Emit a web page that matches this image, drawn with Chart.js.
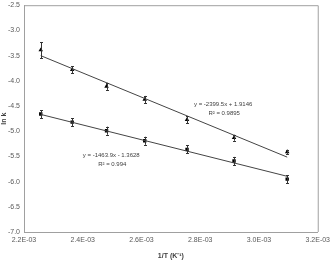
<!DOCTYPE html>
<html>
<head>
<meta charset="utf-8">
<script src="https://cdn.jsdelivr.net/npm/chart.js@4"></script>
<style>
html,body{margin:0;padding:0;background:#fff;}
#wrap{width:331px;height:260px;position:relative;}
</style>
</head>
<body>
<div id="wrap"><canvas id="c" width="331" height="260"></canvas></div>
<script>
// 1/T values (K^-1)
const invT = [0.002257, 0.002364, 0.002481, 0.002611, 0.002755, 0.002915, 0.003096];
// ln k, series A (triangles)
const lnkA = [-3.39, -3.78, -4.11, -4.37, -4.77, -5.13, -5.41];
const errA = [0.16, 0.07, 0.07, 0.07, 0.07, 0.06, 0.04];
// ln k, series B (squares)
const lnkB = [-4.66, -4.82, -4.99, -5.19, -5.36, -5.59, -5.95];
const errB = [0.08, 0.08, 0.08, 0.08, 0.08, 0.08, 0.08];
// trendline equations as shown
const slopes = [-2399.5, -1463.9];
const intercepts = [1.9146, -1.3628];
const eqLabels = ["y = -2399.5x + 1.9146", "y = -1463.9x - 1.3628"];
const r2Labels = ["R\u00b2 = 0.9895", "R\u00b2 = 0.994"];
// axis ticks
const xTicks = [0.0022, 0.0024, 0.0026, 0.0028, 0.0030, 0.0032];
const xTickLabels = ["2.2E-03", "2.4E-03", "2.6E-03", "2.8E-03", "3.0E-03", "3.2E-03"];
const yTicks = [-2.5, -3.0, -3.5, -4.0, -4.5, -5.0, -5.5, -6.0, -6.5, -7.0];
const yTickLabels = ["-2.5", "-3.0", "-3.5", "-4.0", "-4.5", "-5.0", "-5.5", "-6.0", "-6.5", "-7.0"];

const xMin = invT[0], xMax = invT[invT.length - 1];
function trend(i) {
  return [xMin, xMax].map(x => ({x: x, y: slopes[i] * x + intercepts[i]}));
}
const ptsA = invT.map((x, i) => ({x: x, y: lnkA[i]}));
const ptsB = invT.map((x, i) => ({x: x, y: lnkB[i]}));

const errorBars = {
  id: 'errorBars',
  afterDatasetsDraw(chart) {
    const ctx = chart.ctx, xs = chart.scales.x, ys = chart.scales.y;
    ctx.save();
    ctx.strokeStyle = '#333';
    ctx.lineWidth = 1;
    chart.data.datasets.forEach(ds => {
      if (!ds.errors) return;
      ds.data.forEach((p, i) => {
        const px = Math.round(xs.getPixelForValue(p.x)) + 0.5;
        const y1 = ys.getPixelForValue(p.y + ds.errors[i]);
        const y2 = ys.getPixelForValue(p.y - ds.errors[i]);
        ctx.beginPath();
        ctx.moveTo(px, y1); ctx.lineTo(px, y2);
        ctx.moveTo(px - 1.5, Math.round(y1) + 0.5); ctx.lineTo(px + 1.5, Math.round(y1) + 0.5);
        ctx.moveTo(px - 1.5, Math.round(y2) + 0.5); ctx.lineTo(px + 1.5, Math.round(y2) + 0.5);
        ctx.stroke();
      });
    });
    ctx.restore();
  }
};

const annotations = {
  id: 'annots',
  afterDraw(chart) {
    const ctx = chart.ctx, xs = chart.scales.x, ys = chart.scales.y, ca = chart.chartArea;
    ctx.save();
    // top and right frame
    ctx.strokeStyle = '#a0a0a0';
    ctx.lineWidth = 1;
    ctx.beginPath();
    ctx.moveTo(ca.left, ca.top + 0.5); ctx.lineTo(ca.right + 0.5, ca.top + 0.5);
    ctx.lineTo(ca.right + 0.5, ca.bottom);
    ctx.stroke();
    // equation labels
    ctx.fillStyle = '#404040';
    ctx.font = '6px "Liberation Sans", Arial, sans-serif';
    ctx.textAlign = 'center';
    ctx.textBaseline = 'middle';
    const pos = [[0.002878, -4.47], [0.002497, -5.48]];
    pos.forEach((p, i) => {
      const px = xs.getPixelForValue(p[0]);
      const py = ys.getPixelForValue(p[1]);
      ctx.fillText(eqLabels[i], px, py);
      ctx.fillText(r2Labels[i], px + 1, py + 9);
    });
    ctx.restore();
  }
};

new Chart(document.getElementById('c'), {
  type: 'scatter',
  data: {
    datasets: [
      {data: trend(0), type: 'line', showLine: true, borderColor: '#444', borderWidth: 1, pointRadius: 0, fill: false},
      {data: trend(1), type: 'line', showLine: true, borderColor: '#444', borderWidth: 1, pointRadius: 0, fill: false},
      {data: ptsA, errors: errA, pointStyle: 'triangle', pointRadius: 2.6, backgroundColor: '#000', borderColor: '#000', borderWidth: 0},
      {data: ptsB, errors: errB, pointStyle: 'rect', pointRadius: 2.4, backgroundColor: '#000', borderColor: '#000', borderWidth: 0}
    ]
  },
  options: {
    responsive: false,
    animation: false,
    layout: {padding: {left: 0, right: 6, top: 5, bottom: 0}},
    plugins: {legend: {display: false}, tooltip: {enabled: false}},
    scales: {
      x: {
        type: 'linear', min: 0.0022, max: 0.0032,
        afterBuildTicks: s => { s.ticks = xTicks.map(v => ({value: v})); },
        afterFit: s => { s.height = 28; },
        grid: {display: false, drawOnChartArea: false, drawTicks: true, tickLength: 3, color: '#a0a0a0'},
        border: {color: '#a0a0a0', width: 1},
        ticks: {
          padding: 1, color: '#595959', font: {size: 7, family: '"Liberation Sans", Arial, sans-serif'},
          maxRotation: 0, autoSkip: false,
          callback: (v, i) => xTickLabels[i]
        },
        title: {display: true, text: '1/T (K\u207b\u00b9)', color: '#404040', padding: {top: 0, bottom: 0},
          font: {size: 7, weight: 'bold', family: '"Liberation Sans", Arial, sans-serif'}}
      },
      y: {
        type: 'linear', min: -7.0, max: -2.5,
        afterBuildTicks: s => { s.ticks = yTicks.map(v => ({value: v})); },
        afterFit: s => { s.width = 24; },
        grid: {display: false, drawOnChartArea: false, drawTicks: true, tickLength: 3, color: '#a0a0a0'},
        border: {color: '#a0a0a0', width: 1},
        ticks: {
          padding: 1, color: '#595959', font: {size: 7, family: '"Liberation Sans", Arial, sans-serif'},
          autoSkip: false,
          callback: (v, i) => yTickLabels[i]
        },
        title: {display: true, text: 'ln k', color: '#404040', padding: {top: 0, bottom: 0},
          font: {size: 7, weight: 'bold', family: '"Liberation Sans", Arial, sans-serif'}}
      }
    }
  },
  plugins: [errorBars, annotations]
});
</script>
</body>
</html>
